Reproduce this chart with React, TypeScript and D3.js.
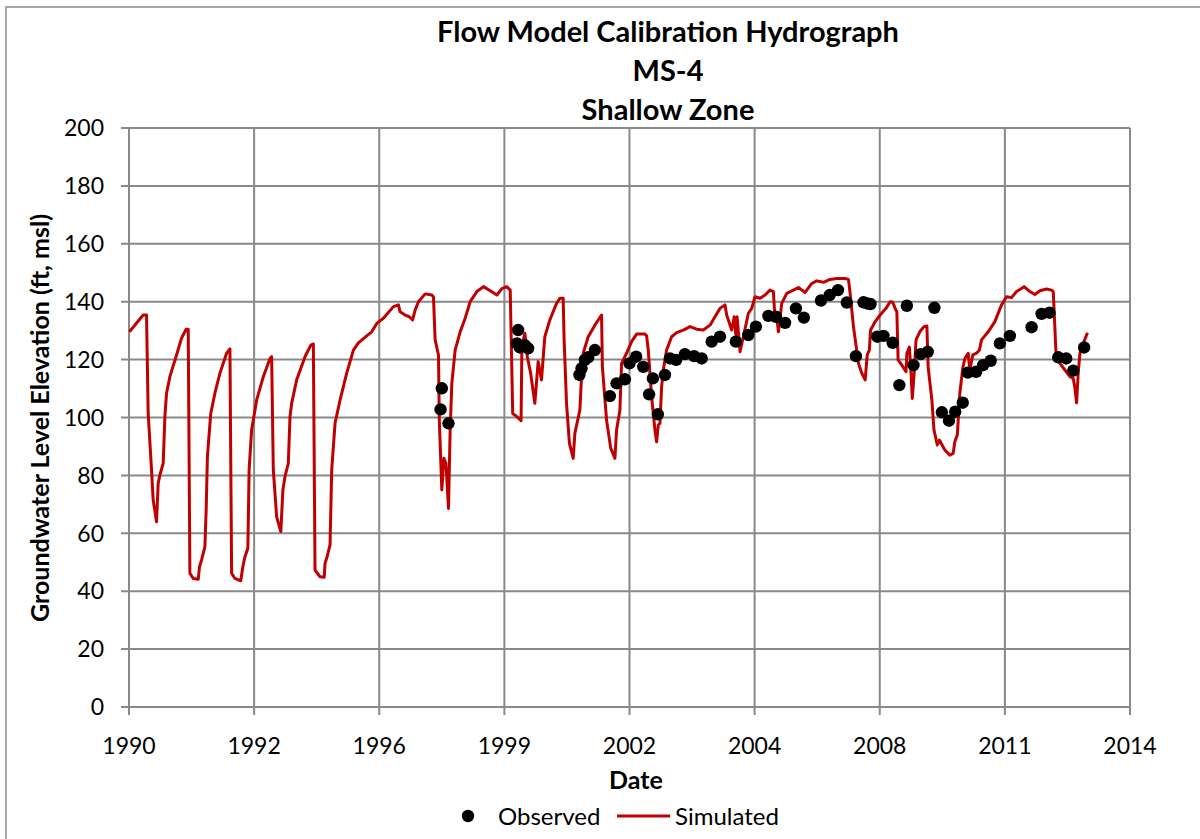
import React, { useEffect, useRef } from "react";
import * as d3 from "d3";

// simulated heads (decimal year, ft msl)
const simYears = [
  1990.01, 1990.34, 1990.42, 1990.46, 1990.54, 1990.58, 1990.66, 1990.70, 1990.74, 1990.82,
  1990.86, 1990.90, 1990.98, 1991.14, 1991.26, 1991.37, 1991.42, 1991.46, 1991.54, 1991.66,
  1991.69, 1991.74, 1991.82, 1991.85, 1991.88, 1991.96, 1992.06, 1992.18, 1992.34, 1992.42,
  1992.46, 1992.54, 1992.68, 1992.73, 1992.78, 1992.85, 1992.88, 1992.94, 1993.06, 1993.22,
  1993.38, 1993.42, 1993.46, 1993.54, 1993.64, 1993.69, 1993.74, 1993.82, 1993.86, 1993.90,
  1994.02, 1994.22, 1994.36, 1994.42, 1994.46, 1994.58, 1994.68, 1994.70, 1994.75, 1994.82,
  1994.86, 1994.94, 1995.06, 1995.22, 1995.38, 1995.50, 1995.70, 1995.82, 1995.94, 1996.10,
  1996.34, 1996.46, 1996.50, 1996.62, 1996.72, 1996.80, 1996.86, 1996.94, 1997.10, 1997.26,
  1997.30, 1997.34, 1997.42, 1997.44, 1997.50, 1997.55, 1997.60, 1997.66, 1997.70, 1997.74,
  1997.82, 1997.94, 1998.06, 1998.18, 1998.34, 1998.50, 1998.66, 1998.82, 1998.94, 1999.06,
  1999.14, 1999.20, 1999.30, 1999.40, 1999.42, 1999.49, 1999.55, 1999.63, 1999.73, 1999.81,
  1999.89, 1999.97, 2000.09, 2000.25, 2000.33, 2000.41, 2000.43, 2000.49, 2000.56, 2000.65,
  2000.69, 2000.81, 2000.85, 2000.89, 2001.01, 2001.17, 2001.33, 2001.35, 2001.45, 2001.55,
  2001.65, 2001.69, 2001.77, 2001.81, 2001.93, 2002.05, 2002.17, 2002.37, 2002.41, 2002.45,
  2002.53, 2002.61, 2002.65, 2002.69, 2002.73, 2002.77, 2002.81, 2002.89, 2003.01, 2003.13,
  2003.29, 2003.45, 2003.61, 2003.77, 2003.93, 2004.05, 2004.17, 2004.29, 2004.33, 2004.45,
  2004.51, 2004.55, 2004.58, 2004.65, 2004.73, 2004.85, 2004.93, 2005.01, 2005.13, 2005.25,
  2005.37, 2005.45, 2005.49, 2005.53, 2005.57, 2005.65, 2005.77, 2005.93, 2006.05, 2006.21,
  2006.37, 2006.49, 2006.65, 2006.81, 2006.97, 2007.17, 2007.25, 2007.29, 2007.37, 2007.49,
  2007.57, 2007.65, 2007.70, 2007.75, 2007.78, 2007.89, 2008.01, 2008.15, 2008.25, 2008.31,
  2008.37, 2008.41, 2008.44, 2008.53, 2008.63, 2008.65, 2008.71, 2008.75, 2008.78, 2008.83,
  2008.87, 2008.96, 2009.06, 2009.13, 2009.16, 2009.25, 2009.30, 2009.38, 2009.43, 2009.56,
  2009.68, 2009.76, 2009.80, 2009.86, 2009.92, 2009.99, 2010.04, 2010.12, 2010.16, 2010.23,
  2010.32, 2010.39, 2010.44, 2010.60, 2010.76, 2010.92, 2011.04, 2011.16, 2011.28, 2011.46,
  2011.60, 2011.72, 2011.84, 2012.00, 2012.12, 2012.16, 2012.23, 2012.32, 2012.44, 2012.56,
  2012.64, 2012.68, 2012.72, 2012.76, 2012.80, 2012.88, 2012.98,
];
const simLevels = [
  129.6, 135.4, 135.4, 101.4, 81.9, 71.5, 64.0, 77.3, 80.1, 84.2,
  100.3, 108.4, 114.1, 121.6, 127.4, 130.5, 130.5, 46.2, 44.4, 44.1,
  48.5, 50.8, 55.4, 68.0, 86.5, 101.4, 108.4, 115.3, 122.2, 123.7,
  46.2, 44.4, 43.6, 48.5, 51.9, 54.8, 81.9, 95.7, 106.0, 114.1,
  120.4, 121.0, 81.9, 65.7, 60.6, 75.0, 79.6, 84.2, 100.3, 104.9,
  113.0, 121.0, 125.0, 125.4, 47.3, 45.0, 44.8, 49.6, 51.9, 56.0,
  81.9, 98.0, 106.0, 115.3, 123.3, 125.8, 128.2, 129.6, 132.5, 134.3,
  138.3, 138.9, 136.5, 135.4, 134.8, 133.7, 137.1, 140.0, 142.7, 142.3,
  141.7, 126.8, 121.6, 99.1, 75.0, 85.9, 84.2, 68.6, 95.7, 111.8,
  123.3, 129.6, 134.3, 140.0, 143.5, 145.2, 143.8, 142.3, 144.5, 145.2,
  144.0, 101.4, 100.3, 98.9, 124.5, 129.1, 121.0, 115.3, 104.9, 119.3,
  113.0, 127.9, 133.7, 139.4, 141.2, 141.2, 127.9, 104.9, 91.1, 85.9,
  94.5, 102.6, 114.1, 122.2, 127.9, 131.9, 135.4, 117.5, 99.1, 89.4,
  85.9, 95.7, 102.6, 118.7, 122.2, 126.2, 128.8, 128.8, 128.2, 123.3,
  107.2, 95.7, 91.6, 97.4, 98.0, 110.6, 116.4, 123.3, 127.9, 129.3,
  130.2, 131.4, 130.5, 130.2, 131.9, 134.8, 137.7, 138.9, 135.4, 130.2,
  134.8, 128.5, 134.8, 122.7, 127.9, 136.0, 137.7, 141.7, 141.2, 142.3,
  144.0, 143.5, 133.7, 135.0, 129.6, 139.4, 142.9, 144.0, 144.9, 143.2,
  146.3, 147.2, 146.7, 147.7, 148.0, 148.0, 147.7, 142.9, 131.4, 118.7,
  115.3, 113.0, 121.6, 123.3, 130.2, 133.1, 135.4, 137.7, 140.0, 139.8,
  137.7, 136.5, 119.9, 118.1, 115.8, 122.2, 124.3, 115.8, 106.6, 116.4,
  126.8, 129.6, 131.4, 131.6, 117.5, 106.0, 95.7, 90.5, 92.2, 88.8,
  87.0, 87.6, 91.6, 94.0, 108.4, 117.0, 120.4, 122.2, 116.4, 121.6,
  122.2, 123.3, 126.8, 129.6, 133.1, 138.9, 141.7, 141.4, 143.5, 145.2,
  143.5, 142.5, 143.8, 144.4, 144.0, 143.5, 121.0, 118.7, 116.4, 114.1,
  113.5, 110.1, 105.1, 115.8, 122.2, 125.6, 129.3,
];

// observed heads
const obsYears = [
  1997.50, 1997.47, 1997.66, 1999.33, 1999.30, 1999.37, 1999.49, 1999.57, 2000.80, 2000.85,
  2000.93, 2001.01, 2001.17, 2001.53, 2001.69, 2001.89, 2002.00, 2002.16, 2002.33, 2002.56,
  2002.47, 2002.68, 2002.85, 2002.97, 2003.12, 2003.33, 2003.55, 2003.73, 2003.97, 2004.17,
  2004.55, 2004.85, 2005.03, 2005.33, 2005.51, 2005.73, 2005.99, 2006.18, 2006.59, 2006.80,
  2007.00, 2007.21, 2007.43, 2007.61, 2007.70, 2007.78, 2007.94, 2008.09, 2008.31, 2008.47,
  2008.65, 2008.81, 2008.98, 2009.15, 2009.31, 2009.49, 2009.66, 2009.81, 2009.99, 2010.11,
  2010.31, 2010.48, 2010.66, 2010.88, 2011.12, 2011.64, 2011.88, 2012.07, 2012.28, 2012.47,
  2012.64, 2012.90,
];
const obsLevels = [
  110.1, 102.8, 98.0, 130.2, 125.6, 124.2, 125.0, 123.9, 114.7, 117.0,
  119.9, 120.8, 123.3, 107.4, 111.8, 113.2, 118.7, 121.0, 117.5, 113.5,
  108.0, 101.1, 114.7, 120.4, 119.9, 121.9, 121.2, 120.4, 126.2, 127.9,
  126.2, 128.5, 131.4, 135.1, 134.8, 132.7, 137.7, 134.5, 140.4, 142.3,
  144.0, 139.7, 121.2, 139.8, 139.4, 139.2, 127.9, 128.2, 125.8, 111.2,
  138.6, 118.1, 121.9, 122.7, 137.9, 101.8, 98.9, 102.0, 105.1, 115.5,
  115.8, 118.1, 119.6, 125.6, 128.2, 131.2, 135.8, 136.2, 120.8, 120.4,
  116.2, 124.2,
];

const yTicks = [0, 20, 40, 60, 80, 100, 120, 140, 160, 180, 200];
const xTickLabels = ["1990", "1992", "1996", "1999", "2002", "2004", "2008", "2011", "2014"];
const titleLines = ["Flow Model Calibration Hydrograph", "MS-4", "Shallow Zone"];

const FONT = "Lato, 'Open Sans', sans-serif";

function App() {
  const svgRef = useRef<SVGSVGElement>(null);

  useEffect(() => {
    const svg = d3.select(svgRef.current);
    svg.selectAll("*").remove();

    const width = 1200;
    const height = 839;
    const margin = { top: 128, right: 70, bottom: 132, left: 129 };
    const grid = "#898989";

    svg.attr("width", width).attr("height", height).style("font-family", FONT);

    svg.append("rect")
      .attr("x", 6).attr("y", 7)
      .attr("width", width + 10).attr("height", height + 10)
      .attr("fill", "white").attr("stroke", grid).attr("stroke-width", 1.5);

    const x = d3.scaleLinear().domain([1990, 2014]).range([margin.left, width - margin.right]);
    const y = d3.scaleLinear().domain([0, 200]).range([height - margin.bottom, margin.top]);
    const xTickVals = xTickLabels.map((_, i) => 1990 + i * 3);

    // gridlines
    svg.append("g").selectAll("line").data(yTicks).enter().append("line")
      .attr("x1", margin.left - 8).attr("x2", width - margin.right)
      .attr("y1", d => y(d)).attr("y2", d => y(d))
      .attr("stroke", grid).attr("stroke-width", 2);

    svg.append("g").selectAll("line").data(xTickVals).enter().append("line")
      .attr("x1", d => x(d)).attr("x2", d => x(d))
      .attr("y1", margin.top).attr("y2", height - margin.bottom + 8)
      .attr("stroke", grid).attr("stroke-width", 2);

    // tick labels
    svg.append("g").selectAll("text").data(yTicks).enter().append("text")
      .attr("x", margin.left - 25).attr("y", d => y(d))
      .attr("dy", "0.36em").attr("text-anchor", "end")
      .style("font-size", "23px").attr("fill", "#000")
      .text(d => d);

    svg.append("g").selectAll("text").data(xTickVals).enter().append("text")
      .attr("x", d => x(d)).attr("y", height - margin.bottom + 39)
      .attr("dy", "0.36em").attr("text-anchor", "middle")
      .style("font-size", "23px").attr("fill", "#000")
      .text((_, i) => xTickLabels[i]);

    // simulated line
    const sim = simYears.map((yr, i) => [yr, simLevels[i]] as [number, number]);
    const line = d3.line<[number, number]>().x(d => x(d[0])).y(d => y(d[1]));
    svg.append("path").datum(sim)
      .attr("d", line)
      .attr("fill", "none").attr("stroke", "#c00000")
      .attr("stroke-width", 3).attr("stroke-linejoin", "round");

    // observed points
    svg.append("g").selectAll("circle").data(obsYears).enter().append("circle")
      .attr("cx", d => x(d)).attr("cy", (_, i) => y(obsLevels[i]))
      .attr("r", 6.2).attr("fill", "#000");

    // titles
    svg.append("g").selectAll("text").data(titleLines).enter().append("text")
      .attr("x", 668).attr("y", (_, i) => 32 + i * 39)
      .attr("dy", "0.36em").attr("text-anchor", "middle")
      .style("font-size", "29px").style("font-weight", "bold")
      .text(d => d);

    svg.append("text")
      .attr("transform", "translate(40, 418) rotate(-90)")
      .attr("dy", "0.36em").attr("text-anchor", "middle")
      .style("font-size", "25px").style("font-weight", "bold")
      .text("Groundwater Level Elevation (ft, msl)");

    svg.append("text")
      .attr("x", 636).attr("y", 780)
      .attr("dy", "0.36em").attr("text-anchor", "middle")
      .style("font-size", "25px").style("font-weight", "bold")
      .text("Date");

    // legend
    const lg = svg.append("g").attr("transform", "translate(0, 816)");
    lg.append("circle").attr("cx", 468).attr("cy", 0).attr("r", 6.2).attr("fill", "#000");
    lg.append("text").attr("x", 498).attr("y", 0).attr("dy", "0.36em")
      .style("font-size", "24px").text("Observed");
    lg.append("line").attr("x1", 617).attr("x2", 670).attr("y1", 0).attr("y2", 0)
      .attr("stroke", "#c00000").attr("stroke-width", 3);
    lg.append("text").attr("x", 675).attr("y", 0).attr("dy", "0.36em")
      .style("font-size", "24px").text("Simulated");
  }, []);

  return (
    <div style={{ position: "absolute", left: 0, top: 0 }}>
      <svg ref={svgRef} style={{ display: "block" }}></svg>
    </div>
  );
}

export default App;
